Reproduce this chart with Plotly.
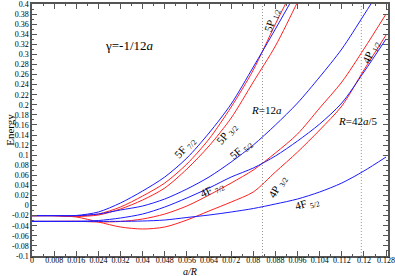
import plotly.graph_objects as go

# a/R sample positions
a_grid = [0, 0.008, 0.016, 0.024, 0.032, 0.040, 0.048, 0.056, 0.064, 0.072, 0.080,
          0.088, 0.096, 0.104, 0.112, 0.120, 0.128]

# Energies (series stop once the curve has left the frame)
E_5F72 = [-0.02, -0.02, -0.0196, -0.0127, 0.0052, 0.029, 0.0567, 0.0944, 0.144, 0.2016, 0.275,
          0.3504, 0.4278]
E_5P12 = [-0.02, -0.02, -0.0206, -0.0167, -0.0028, 0.019, 0.0448, 0.0825, 0.1321, 0.1956, 0.269,
          0.3603, 0.4476]
E_5P32 = [-0.02, -0.02, -0.0216, -0.0187, -0.0067, 0.0111, 0.0349, 0.0726, 0.1183, 0.1738, 0.2452,
          0.3167, 0.404, 0.4972]
E_5F52 = [-0.02, -0.02, -0.02, -0.0167, -0.0087, -0.0008, 0.0131, 0.0329, 0.0567, 0.0865, 0.1202,
          0.1599, 0.2036, 0.2552, 0.3107, 0.3782, 0.4476]
E_4P32 = [-0.02, -0.02, -0.0226, -0.0325, -0.0425, -0.0464, -0.0425, -0.0286, -0.0107, 0.0071, 0.027,
          0.0667, 0.1063, 0.15, 0.1976, 0.269, 0.3385]
E_4F72 = [-0.03125, -0.03125, -0.03125, -0.0296, -0.0246, -0.0167, -0.0028, 0.0151, 0.0349, 0.0567,
          0.0746, 0.0984, 0.1282, 0.1619, 0.2036, 0.2651, 0.3306]
E_4P12 = [-0.03125, -0.03125, -0.031, -0.0325, -0.0315, -0.0266, -0.0167, -0.0008, 0.021, 0.0448,
          0.0706, 0.1044, 0.1421, 0.1937, 0.2452, 0.3107, 0.3802]
E_4F52 = [-0.03125, -0.03125, -0.03125, -0.03125, -0.0312, -0.0306, -0.0286, -0.0236, -0.0187, -0.0127,
          -0.0058, 0.0032, 0.0131, 0.027, 0.0448, 0.0687, 0.0964]

special_aR = [1 / 12, 5 / 42]

y_ticks = [round(-0.1 + 0.02 * i, 2) for i in range(26)]
y_ticktext = ["-0.1", "-0.08", "-0.06", "-0.04", "-0.02", "0", "0.02", "0.04", "0.06", "0.08",
              "0.1", "0.12", "0.14", "0.16", "0.18", "0.2", "0.22", "0.24", "0.26", "0.28",
              "0.3", "0.32", "0.34", "0.36", "0.38", "0.4"]
x_ticks = a_grid
x_ticktext = ["0", "0.008", "0.016", "0.024", "0.032", "0.04", "0.048", "0.056", "0.064", "0.072",
              "0.08", "0.088", "0.096", "0.104", "0.112", "0.12", "0.128"]

BLUE = "#1a1aff"
RED = "#ff2020"
FONT = "Liberation Serif"

fig = go.Figure()
reds = [E_5P12, E_5P32, E_4P32, E_4P12]
blues = [E_5F72, E_5F52, E_4F72, E_4F52]
for ys in reds:
    fig.add_trace(go.Scatter(x=a_grid[:len(ys)], y=ys, mode="lines",
                             line=dict(color=RED, width=1, shape="spline", smoothing=0.8),
                             showlegend=False, hoverinfo="skip"))
for ys in blues:
    fig.add_trace(go.Scatter(x=a_grid[:len(ys)], y=ys, mode="lines",
                             line=dict(color=BLUE, width=1, shape="spline", smoothing=0.8),
                             showlegend=False, hoverinfo="skip"))

for xv in special_aR:
    fig.add_shape(type="line", x0=xv, x1=xv, y0=0, y1=1, xref="x", yref="paper",
                  line=dict(color="#9a9a9a", width=1, dash="1px,2px"), layer="below")

# curve labels: (text, a/R, E, angle)
labels = [
    ("5F <sub>7/2</sub>", 0.0553, 0.1143, -48),
    ("5P <sub>3/2</sub>", 0.0705, 0.142, -50),
    ("5F <sub>5/2</sub>", 0.0756, 0.1103, -40),
    ("5P <sub>1/2</sub>", 0.0868, 0.3683, -72),
    ("4P <sub>1/2</sub>", 0.1226, 0.3048, -65),
    ("4F <sub>7/2</sub>", 0.0651, 0.031, -25),
    ("4P <sub>3/2</sub>", 0.0889, 0.0369, -60),
    ("4F <sub>5/2</sub>", 0.0994, 0.0032, -15),
]
for txt, xa, ya, ang in labels:
    fig.add_annotation(x=xa, y=ya, text=txt, showarrow=False, textangle=ang,
                       font=dict(family=FONT, size=11, color="black"))

fig.add_annotation(x=0.0846, y=0.1897, text="<i>R</i>=12<i>a</i>", showarrow=False,
                   font=dict(family=FONT, size=11, color="black"))
fig.add_annotation(x=0.1179, y=0.1679, text="<i>R</i>=42<i>a</i>/5", showarrow=False,
                   font=dict(family=FONT, size=11, color="black"))
fig.add_annotation(x=0.0354, y=0.3167, text="γ=-1/12<i>a</i>", showarrow=False,
                   font=dict(family=FONT, size=13, color="black"))

fig.add_annotation(x=0.445, y=-0.03, xref="paper", yref="paper", text="<i>a/R</i>",
                   showarrow=False, yanchor="top",
                   font=dict(family=FONT, size=10, color="black"))
fig.add_annotation(x=-0.085, y=0.5, xref="paper", yref="paper", text="Energy",
                   showarrow=False, textangle=-90,
                   font=dict(family=FONT, size=11, color="black"))

axis_common = dict(showline=True, linecolor="#555555", linewidth=1.5, mirror="allticks",
                   ticks="inside", tickcolor="#555555", ticklen=5, tickwidth=1,
                   showgrid=False, zeroline=False, automargin=False,
                   ticklabeloverflow="allow",
                   tickfont=dict(family=FONT, size=8, color="black"))

fig.update_xaxes(range=[0, 0.1287], tickvals=x_ticks, ticktext=x_ticktext,
                 ticklabelstandoff=-4,
                 minor=dict(dtick=0.004, tick0=0, ticks="inside", ticklen=2.5,
                            tickcolor="#555555", showgrid=False),
                 **axis_common)
fig.update_yaxes(range=[-0.1, 0.4], tickvals=y_ticks, ticktext=y_ticktext,
                 minor=dict(dtick=0.01, tick0=0, ticks="inside", ticklen=2.5,
                            tickcolor="#555555", showgrid=False),
                 **axis_common)

fig.update_layout(width=395, height=276, margin=dict(l=32, r=7, t=4, b=20, autoexpand=False),
                  plot_bgcolor="white", paper_bgcolor="white")

fig.write_html("out.html", config={"displayModeBar": False},
               post_script="document.documentElement.style.margin='0';"
                           "document.body.style.margin='0';document.body.style.padding='0';"
                           "document.body.style.overflow='hidden';"
                           "var gd=document.getElementById('{plot_id}');"
                           "gd.style.position='absolute';gd.style.top='0px';gd.style.left='0px';"
                           "window.scrollTo(0,0);")
